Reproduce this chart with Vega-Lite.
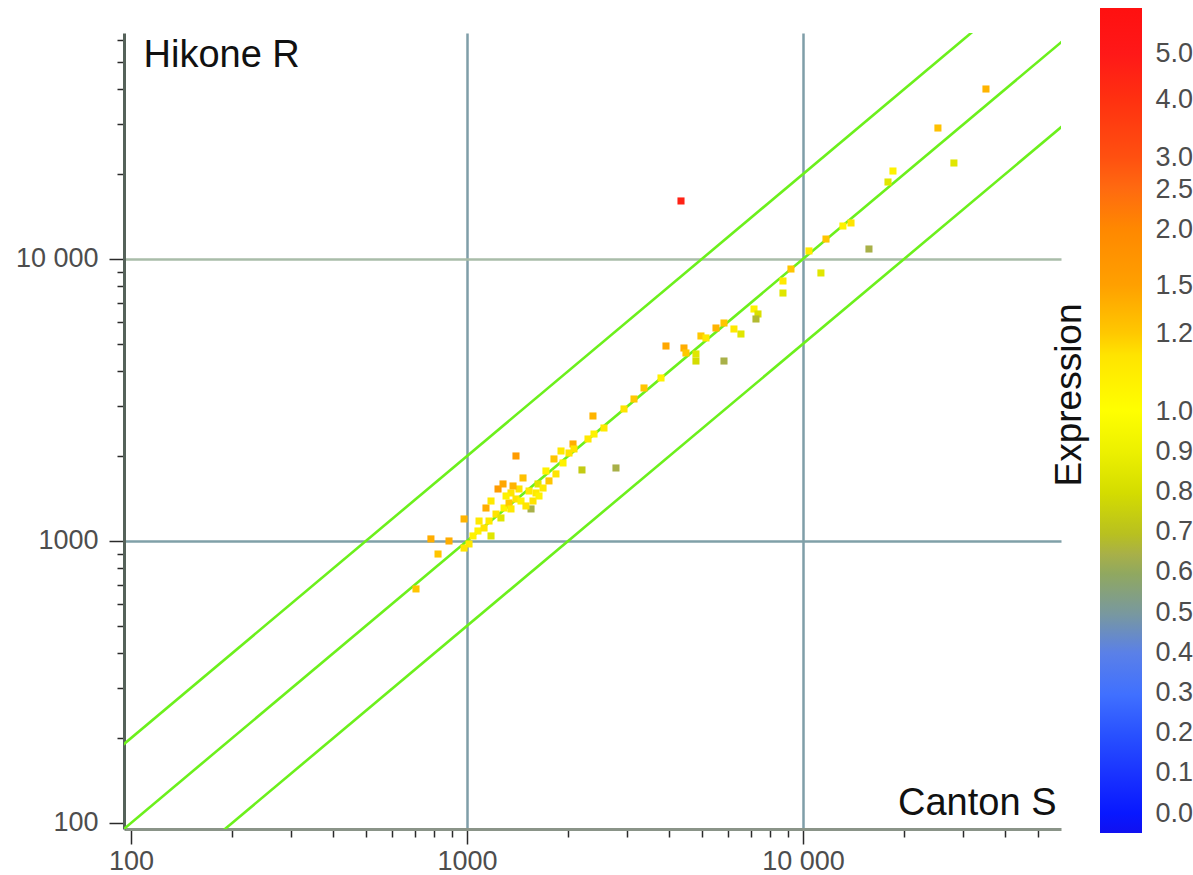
{
  "$schema": "https://vega.github.io/schema/vega-lite/v6.json",
  "background": "white",
  "padding": {"left": 15, "top": 7, "right": 0, "bottom": 0},
  "bounds": "flush",
  "spacing": 39,
  "config": {"view": {"stroke": null}, "font": "Liberation Sans"},
  "datasets": {
    "points": [
      {"canton": 705, "hikone": 676, "expr": 1.22},
      {"canton": 781, "hikone": 1017, "expr": 1.4},
      {"canton": 884, "hikone": 1000, "expr": 1.4},
      {"canton": 820, "hikone": 899, "expr": 1.22},
      {"canton": 980, "hikone": 1197, "expr": 1.35},
      {"canton": 1014, "hikone": 976, "expr": 1.08},
      {"canton": 1042, "hikone": 1042, "expr": 1.05},
      {"canton": 980, "hikone": 944, "expr": 1.1},
      {"canton": 1078, "hikone": 1085, "expr": 1.05},
      {"canton": 1124, "hikone": 1112, "expr": 1.1},
      {"canton": 1163, "hikone": 1177, "expr": 1.08},
      {"canton": 1179, "hikone": 1042, "expr": 0.85},
      {"canton": 1139, "hikone": 1309, "expr": 1.4},
      {"canton": 1220, "hikone": 1246, "expr": 1.1},
      {"canton": 1262, "hikone": 1207, "expr": 0.85},
      {"canton": 1237, "hikone": 1529, "expr": 1.6},
      {"canton": 1280, "hikone": 1593, "expr": 1.45},
      {"canton": 1399, "hikone": 2002, "expr": 1.6},
      {"canton": 1289, "hikone": 1309, "expr": 1.05},
      {"canton": 1334, "hikone": 1364, "expr": 1.2},
      {"canton": 1352, "hikone": 1299, "expr": 1.08},
      {"canton": 1399, "hikone": 1409, "expr": 1.1},
      {"canton": 1448, "hikone": 1386, "expr": 1.05},
      {"canton": 1352, "hikone": 1480, "expr": 1.1},
      {"canton": 1468, "hikone": 1673, "expr": 1.25},
      {"canton": 1530, "hikone": 1504, "expr": 1.08},
      {"canton": 1572, "hikone": 1386, "expr": 1.1},
      {"canton": 1551, "hikone": 1299, "expr": 0.65},
      {"canton": 1627, "hikone": 1593, "expr": 0.85},
      {"canton": 1684, "hikone": 1541, "expr": 1.08},
      {"canton": 1718, "hikone": 1771, "expr": 1.05},
      {"canton": 1840, "hikone": 1729, "expr": 1.1},
      {"canton": 1815, "hikone": 1954, "expr": 1.22},
      {"canton": 1931, "hikone": 1891, "expr": 1.05},
      {"canton": 1905, "hikone": 2085, "expr": 1.08},
      {"canton": 2068, "hikone": 2208, "expr": 1.4},
      {"canton": 2082, "hikone": 2120, "expr": 1.1},
      {"canton": 2199, "hikone": 1786, "expr": 0.74},
      {"canton": 2776, "hikone": 1815, "expr": 0.65},
      {"canton": 2292, "hikone": 2300, "expr": 1.08},
      {"canton": 2388, "hikone": 2395, "expr": 1.05},
      {"canton": 2371, "hikone": 2775, "expr": 1.35},
      {"canton": 2557, "hikone": 2516, "expr": 1.08},
      {"canton": 2933, "hikone": 2939, "expr": 1.1},
      {"canton": 3141, "hikone": 3188, "expr": 1.2},
      {"canton": 3364, "hikone": 3488, "expr": 1.22},
      {"canton": 3780, "hikone": 3785, "expr": 1.05},
      {"canton": 3911, "hikone": 4914, "expr": 1.45},
      {"canton": 4424, "hikone": 4835, "expr": 1.4},
      {"canton": 4485, "hikone": 4642, "expr": 1.2},
      {"canton": 4803, "hikone": 4605, "expr": 0.85},
      {"canton": 4803, "hikone": 4347, "expr": 0.8},
      {"canton": 5820, "hikone": 4347, "expr": 0.65},
      {"canton": 4970, "hikone": 5333, "expr": 1.2},
      {"canton": 5144, "hikone": 5248, "expr": 1.08},
      {"canton": 5510, "hikone": 5692, "expr": 1.35},
      {"canton": 5820, "hikone": 5929, "expr": 1.22},
      {"canton": 6231, "hikone": 5646, "expr": 1.08},
      {"canton": 6538, "hikone": 5420, "expr": 0.85},
      {"canton": 7149, "hikone": 6647, "expr": 1.05},
      {"canton": 7347, "hikone": 6383, "expr": 0.82},
      {"canton": 7247, "hikone": 6127, "expr": 0.68},
      {"canton": 8719, "hikone": 8356, "expr": 1.08},
      {"canton": 8719, "hikone": 7574, "expr": 0.85},
      {"canton": 9211, "hikone": 9215, "expr": 1.22},
      {"canton": 10420, "hikone": 10680, "expr": 1.08},
      {"canton": 11310, "hikone": 8922, "expr": 0.85},
      {"canton": 11710, "hikone": 11770, "expr": 1.22},
      {"canton": 13150, "hikone": 13090, "expr": 1.05},
      {"canton": 13900, "hikone": 13420, "expr": 1.1},
      {"canton": 15720, "hikone": 10850, "expr": 0.65},
      {"canton": 17910, "hikone": 18750, "expr": 0.85},
      {"canton": 18530, "hikone": 20510, "expr": 1.05},
      {"canton": 25220, "hikone": 29140, "expr": 1.25},
      {"canton": 28140, "hikone": 21900, "expr": 0.85},
      {"canton": 35050, "hikone": 40070, "expr": 1.35},
      {"canton": 4335, "hikone": 16060, "expr": 4.6},
      {"canton": 1086, "hikone": 1177, "expr": 1.08},
      {"canton": 1307, "hikone": 1444, "expr": 1.05},
      {"canton": 1428, "hikone": 1529, "expr": 1.1},
      {"canton": 1605, "hikone": 1480, "expr": 1.08},
      {"canton": 1498, "hikone": 1331, "expr": 1.1},
      {"canton": 1638, "hikone": 1444, "expr": 1.05},
      {"canton": 1754, "hikone": 1633, "expr": 1.22},
      {"canton": 1371, "hikone": 1567, "expr": 1.35},
      {"canton": 1179, "hikone": 1386, "expr": 1.08},
      {"canton": 2012, "hikone": 2051, "expr": 1.1}
    ],
    "lines": [
      {"canton": 50, "hikone": 100, "ratio": "2x"},
      {"canton": 100000, "hikone": 200000, "ratio": "2x"},
      {"canton": 50, "hikone": 50, "ratio": "1x"},
      {"canton": 100000, "hikone": 100000, "ratio": "1x"},
      {"canton": 50, "hikone": 25, "ratio": "0.5x"},
      {"canton": 100000, "hikone": 50000, "ratio": "0.5x"}
    ]
  },
  "hconcat": [
    {
      "width": 937,
      "height": 796,
      "layer": [
        {
          "data": {"name": "lines"},
          "mark": {"type": "line", "clip": true, "color": "#6cf01c", "strokeWidth": 2.6},
          "encoding": {
            "x": {
              "field": "canton", "type": "quantitative",
              "scale": {"type": "log", "domain": [95.3, 58620], "nice": false},
              "axis": {
                "values": [100,200,300,400,500,600,700,800,900,1000,2000,3000,4000,5000,6000,7000,8000,9000,10000,20000,30000,40000,50000],
                "labelExpr": "datum.value == 100 ? '100' : datum.value == 1000 ? '1000' : datum.value == 10000 ? '10 000' : ''",
                "labelFlush": false, "labelOverlap": false,
                "labelFont": "Liberation Sans", "labelFontSize": 27, "labelColor": "#4d4d4d", "labelPadding": 4,
                "grid": true,
                "gridOpacity": {"condition": {"test": "datum.value == 1000 || datum.value == 10000", "value": 1}, "value": 0},
                "gridColor": "#7f9ea8", "gridWidth": 2.5,
                "tickSize": {"condition": {"test": "datum.value == 100 || datum.value == 1000 || datum.value == 10000", "value": 15}, "value": 8},
                "tickColor": "#2a2a2a", "tickWidth": 1.5,
                "domainColor": "#8a9488", "domainWidth": 3,
                "title": "Canton S", "titleFont": "Liberation Sans", "titleFontSize": 38, "titleFontWeight": "normal", "titleColor": "#111111",
                "titleX": 932, "titleY": -15, "titleAlign": "right", "titleBaseline": "alphabetic"
              }
            },
            "y": {
              "field": "hikone", "type": "quantitative",
              "scale": {"type": "log", "domain": [95.2, 63300], "nice": false},
              "axis": {
                "values": [100,200,300,400,500,600,700,800,900,1000,2000,3000,4000,5000,6000,7000,8000,9000,10000,20000,30000,40000,50000,60000],
                "labelExpr": "datum.value == 100 ? '100' : datum.value == 1000 ? '1000' : datum.value == 10000 ? '10 000' : ''",
                "labelFlush": false, "labelOverlap": false,
                "labelFont": "Liberation Sans", "labelFontSize": 27, "labelColor": "#4d4d4d", "labelPadding": 11,
                "grid": true,
                "gridOpacity": {"condition": {"test": "datum.value == 1000 || datum.value == 10000", "value": 1}, "value": 0},
                "gridColor": {"condition": {"test": "datum.value == 10000", "value": "#a9bca9"}, "value": "#80a0a8"},
                "gridWidth": 2.5,
                "tickSize": {"condition": {"test": "datum.value == 100 || datum.value == 1000 || datum.value == 10000", "value": 15}, "value": 7},
                "tickColor": "#2a2a2a", "tickWidth": 1.5,
                "domainColor": "#55625a", "domainWidth": 3,
                "title": "Hikone R", "titleFont": "Liberation Sans", "titleFontSize": 38, "titleFontWeight": "normal", "titleColor": "#111111",
                "titleAngle": 0, "titleX": 19, "titleY": 33, "titleAlign": "left", "titleBaseline": "alphabetic"
              }
            },
            "detail": {"field": "ratio"}
          }
        },
        {
          "data": {"name": "points"},
          "mark": {"type": "point", "shape": "square", "filled": true, "size": 50, "opacity": 1},
          "encoding": {
            "x": {"field": "canton", "type": "quantitative"},
            "y": {"field": "hikone", "type": "quantitative"},
            "color": {
              "field": "expr", "type": "quantitative", "legend": null,
              "scale": {
                "domain": [0, 0.1, 0.2, 0.3, 0.4, 0.5, 0.6, 0.65, 0.7, 0.8, 0.9, 1.0, 1.1, 1.2, 1.5, 2.0, 2.5, 3.0, 4.0, 5.0],
                "range": ["#0818ff","#1830ff","#2850ff","#4070ff","#5a80e8","#7898a0","#90a860","#a8b048","#b8c020","#d4dc00","#ecf000","#ffff00","#ffe400","#ffc800","#ffa000","#ff8800","#ff6a10","#ff5010","#ff3010","#ff1818"],
                "interpolate": "rgb"
              }
            }
          }
        }
      ]
    },
    {
      "width": 42,
      "height": 796,
      "data": {"values": [{"from": -0.05, "to": 5.98}]},
      "mark": {
        "type": "rect",
        "color": {
          "gradient": "linear", "x1": 0, "y1": 1, "x2": 0, "y2": 0,
          "stops": [
            {"offset": 0, "color": "#1010f0"},
            {"offset": 0.024, "color": "#0818ff"},
            {"offset": 0.067, "color": "#1830ff"},
            {"offset": 0.118, "color": "#2850ff"},
            {"offset": 0.168, "color": "#4070ff"},
            {"offset": 0.218, "color": "#5a80e8"},
            {"offset": 0.265, "color": "#7898a0"},
            {"offset": 0.314, "color": "#90a860"},
            {"offset": 0.338, "color": "#a8b048"},
            {"offset": 0.362, "color": "#b8c020"},
            {"offset": 0.412, "color": "#d4dc00"},
            {"offset": 0.461, "color": "#ecf000"},
            {"offset": 0.512, "color": "#ffff00"},
            {"offset": 0.579, "color": "#ffe400"},
            {"offset": 0.606, "color": "#ffc800"},
            {"offset": 0.664, "color": "#ffa000"},
            {"offset": 0.732, "color": "#ff8800"},
            {"offset": 0.781, "color": "#ff6a10"},
            {"offset": 0.819, "color": "#ff5010"},
            {"offset": 0.89, "color": "#ff3010"},
            {"offset": 0.945, "color": "#ff1818"},
            {"offset": 1, "color": "#ff1010"}
          ]
        }
      },
      "encoding": {
        "x": {"datum": 0, "type": "quantitative", "scale": {"domain": [0, 1], "nice": false, "zero": false}, "axis": null},
        "x2": {"datum": 1},
        "y": {
          "field": "from", "type": "quantitative",
          "scale": {"type": "linear", "domain": [0, 1, 1.2, 1.5, 2, 2.5, 3, 4, 5], "range": [780, 378, 300, 252, 196, 156, 124, 66, 20], "nice": false, "zero": false},
          "axis": {
            "orient": "right",
            "values": [0, 0.1, 0.2, 0.3, 0.4, 0.5, 0.6, 0.7, 0.8, 0.9, 1, 1.2, 1.5, 2, 2.5, 3, 4, 5],
            "format": ".1f",
            "domain": false, "ticks": false, "tickSize": 0, "grid": false,
            "labelPadding": 13, "labelFontSize": 27, "labelColor": "#4d4d4d", "labelFont": "Liberation Sans",
            "labelOverlap": false, "labelFlush": false,
            "title": "Expression", "titleFont": "Liberation Sans", "titleFontSize": 37, "titleFontWeight": "normal", "titleColor": "#111111",
            "titleAngle": -90, "titleX": -62, "titleY": 361.5, "titleAlign": "center", "titleBaseline": "alphabetic"
          }
        },
        "y2": {"field": "to"}
      }
    }
  ]
}
